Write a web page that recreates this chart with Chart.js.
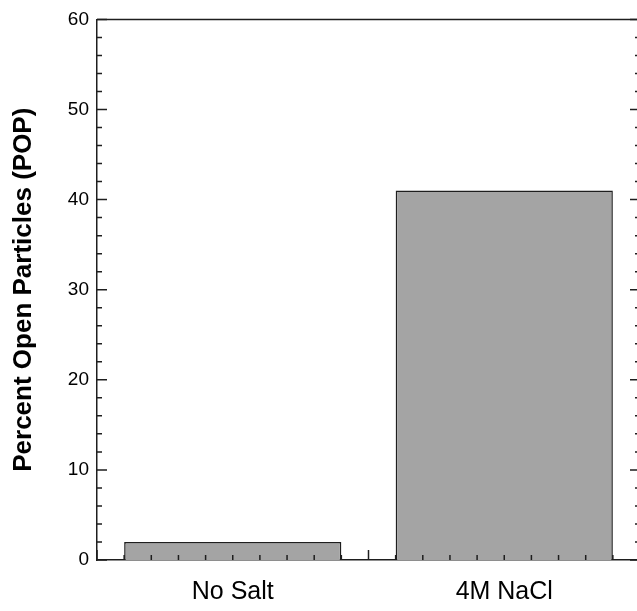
<!DOCTYPE html>
<html>
<head>
<meta charset="utf-8">
<script src="https://cdn.jsdelivr.net/npm/chart.js@4"></script>
<style>
  html, body { margin: 0; padding: 0; overflow: hidden; background: #fff; }
  #wrap { width: 643px; height: 611px; }
</style>
</head>
<body>
<div id="wrap"><canvas id="myChart"></canvas></div>
<script>
// data
const categories = ["No Salt", "4M NaCl"];
const popValues = [2, 41];
const yTickValues = [0, 10, 20, 30, 40, 50, 60];

const axisColor = "#1e1e1e";

// draws the inward ticks (major + minor) and the top frame line
const frameTicks = {
    id: "frameTicks",
    afterDatasetsDraw(chart) {
        const ctx = chart.ctx;
        const area = chart.chartArea;
        const y = chart.scales.y;
        const x = chart.scales.x;
        ctx.save();
        ctx.strokeStyle = axisColor;
        ctx.lineWidth = 1.5;

        // top frame
        ctx.beginPath();
        ctx.moveTo(area.left, area.top);
        ctx.lineTo(area.right, area.top);
        ctx.stroke();

        // y ticks, left and right
        for (let v = y.min; v <= y.max; v += 2) {
            const py = y.getPixelForValue(v);
            const len = yTickValues.includes(v) ? 10 : 5;
            ctx.beginPath();
            ctx.moveTo(area.left, py);
            ctx.lineTo(area.left + len, py);
            ctx.moveTo(area.right, py);
            ctx.lineTo(area.right - len, py);
            ctx.stroke();
        }

        // x ticks: major at category boundaries, minor every tenth
        const c0 = x.getPixelForValue(0);
        const catW = x.getPixelForValue(1) - c0;
        for (let i = 0; i < categories.length; i++) {
            const start = x.getPixelForValue(i) - catW / 2;
            for (let k = 0; k < 10; k++) {
                const px = start + k * catW / 10;
                const len = k === 0 ? 10 : 5;
                ctx.beginPath();
                ctx.moveTo(px, area.bottom);
                ctx.lineTo(px, area.bottom - len);
                ctx.stroke();
            }
        }
        ctx.restore();
    }
};

new Chart("myChart", {
    type: "bar",
    data: {
        labels: categories,
        datasets: [{
            data: popValues,
            backgroundColor: "#a4a4a4",
            borderColor: axisColor,
            borderWidth: 1.5,
            barPercentage: 0.8,
            categoryPercentage: 1.0
        }]
    },
    options: {
        responsive: true,
        maintainAspectRatio: false,
        animation: false,
        layout: { padding: { left: 8, top: 18, right: 3, bottom: 0 } },
        plugins: {
            legend: { display: false },
            tooltip: { enabled: false }
        },
        scales: {
            x: {
                grid: { display: false, drawTicks: false },
                border: { display: true, color: axisColor, width: 1.5 },
                ticks: {
                    color: "#000",
                    padding: 17,
                    font: { family: "'Liberation Sans', Arial, sans-serif", size: 25 }
                },
                afterFit: (s) => { s.height = 51; }
            },
            y: {
                min: 0,
                max: 60,
                grid: { display: false, drawTicks: false },
                border: { display: true, color: axisColor, width: 1.5 },
                ticks: {
                    stepSize: 10,
                    color: "#000",
                    padding: 8,
                    font: { family: "'Liberation Sans', Arial, sans-serif", size: 19 }
                },
                title: {
                    display: true,
                    text: "Percent Open Particles (POP)",
                    color: "#000",
                    padding: 0,
                    font: { family: "'Liberation Sans', Arial, sans-serif", size: 26, weight: "bold" }
                },
                afterFit: (s) => { s.width = 89; }
            }
        }
    },
    plugins: [frameTicks]
});
</script>
</body>
</html>
